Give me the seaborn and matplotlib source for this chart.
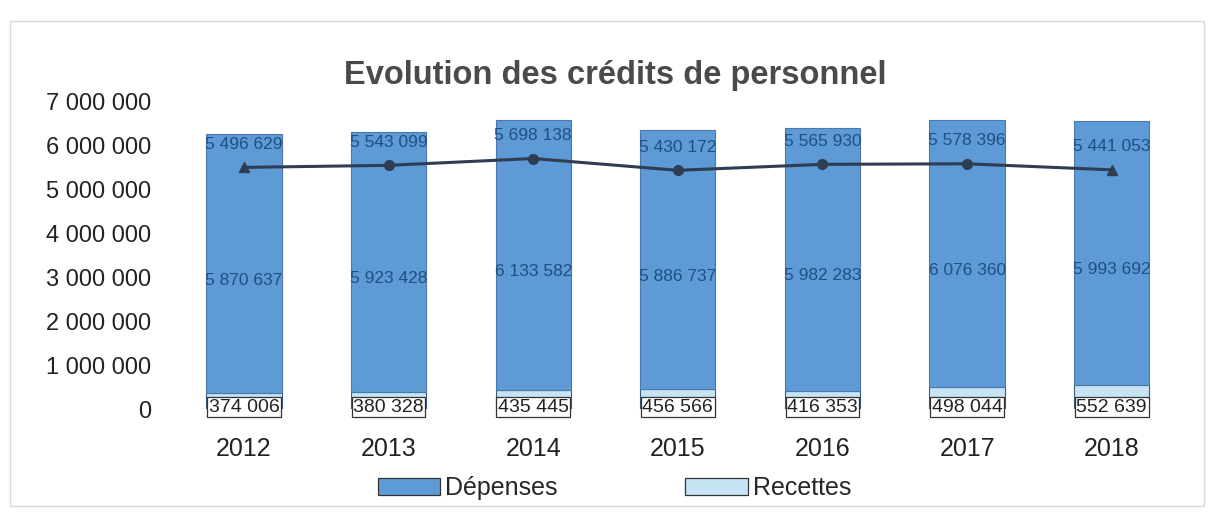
import matplotlib
matplotlib.use('Agg')
import matplotlib.pyplot as plt
import pandas as pd
import seaborn as sns
from matplotlib.patches import Patch, Rectangle

years = ['2012', '2013', '2014', '2015', '2016', '2017', '2018']
depenses = [5870637, 5923428, 6133582, 5886737, 5982283, 6076360, 5993692]
recettes = [374006, 380328, 435445, 456566, 416353, 498044, 552639]
net_labels = ['5 496 629', '5 543 099', '5 698 138', '5 430 172', '5 565 930', '5 578 396', '5 441 053']
net = [5496629, 5543099, 5698138, 5430172, 5565930, 5578396, 5441053]
yticks = [0, 1000000, 2000000, 3000000, 4000000, 5000000, 6000000, 7000000]

C_DEP = '#5e9ad6'
C_REC = '#c6e4f4'
C_LINE = '#2e3d52'
C_TXT = '#1f4f86'


def fmt(v):
    return f'{v:,}'.replace(',', ' ')


def _main():
    sns.set_theme(style='white')
    plt.rcParams['font.family'] = ['Liberation Sans', 'DejaVu Sans']

    df = pd.DataFrame({'year': years, 'depenses': depenses, 'recettes': recettes, 'net': net})

    fig = plt.figure(figsize=(12.12, 5.14), dpi=100)
    ax = fig.add_axes([0.144, 0.204, 0.821, 0.599])

    sns.barplot(data=df, x='year', y='recettes', color=C_REC, width=0.52,
                edgecolor='#3a5a80', linewidth=0.8, saturation=1, ax=ax)
    sns.barplot(data=df, x='year', y='depenses', color=C_DEP, width=0.52,
                bottom=df['recettes'], edgecolor='#4a78aa', linewidth=0.8,
                saturation=1, ax=ax)
    sns.lineplot(data=df, x='year', y='net', color=C_LINE, linewidth=2.2,
                 sort=False, ax=ax)
    for i, v in enumerate(net):
        mk = '^' if i in (0, len(net) - 1) else 'o'
        ax.plot(i, v, marker=mk, color=C_LINE, markersize=7, zorder=5)

    for i in range(len(years)):
        ax.text(i, net[i] + 520000, net_labels[i], ha='center', va='center',
                fontsize=12.5, color=C_TXT, zorder=6)
        ax.text(i, recettes[i] + depenses[i] / 2 - 380000, fmt(depenses[i]),
                ha='center', va='center', fontsize=12.5, color=C_TXT, zorder=6)
        ax.text(i, 40000, fmt(recettes[i]), ha='center', va='center',
                fontsize=14, color='#222222', zorder=6, clip_on=False,
                bbox=dict(boxstyle='square,pad=0.08', facecolor='white',
                          edgecolor='#333333', linewidth=0.9))

    ax.set_ylim(0, 7000000)
    ax.set_xlim(-0.48, 6.4)
    ax.set_yticks(yticks)
    ax.set_yticklabels([fmt(t) for t in yticks], fontsize=17, color='#222222')
    ax.tick_params(axis='y', length=0, pad=17)
    ax.tick_params(axis='x', length=0, pad=20, labelsize=18, labelcolor='#222222')
    ax.set_xlabel('')
    ax.set_ylabel('')
    sns.despine(ax=ax, left=True, bottom=True)

    fig.text(0.508, 0.853, 'Evolution des crédits de personnel', ha='center',
             va='center', fontsize=23.5, fontweight='bold', color='#4a4a4a')

    handles = [Patch(facecolor=C_DEP, edgecolor='#333333', linewidth=0.9, label='Dépenses'),
               Patch(facecolor=C_REC, edgecolor='#333333', linewidth=0.9, label='Recettes')]
    fig.legend(handles=handles, loc='center', bbox_to_anchor=(0.507, 0.05), ncol=2,
               frameon=False, fontsize=18, handlelength=2.5, handleheight=0.7,
               columnspacing=5.1, handletextpad=0.2)

    fig.patches.append(Rectangle((0.008, 0.015), 0.985, 0.945, transform=fig.transFigure,
                                 fill=False, edgecolor='#d8d8d8', linewidth=1))

    fig.savefig('out.png', dpi=100)


if __name__ == '__main__':
    _main()
